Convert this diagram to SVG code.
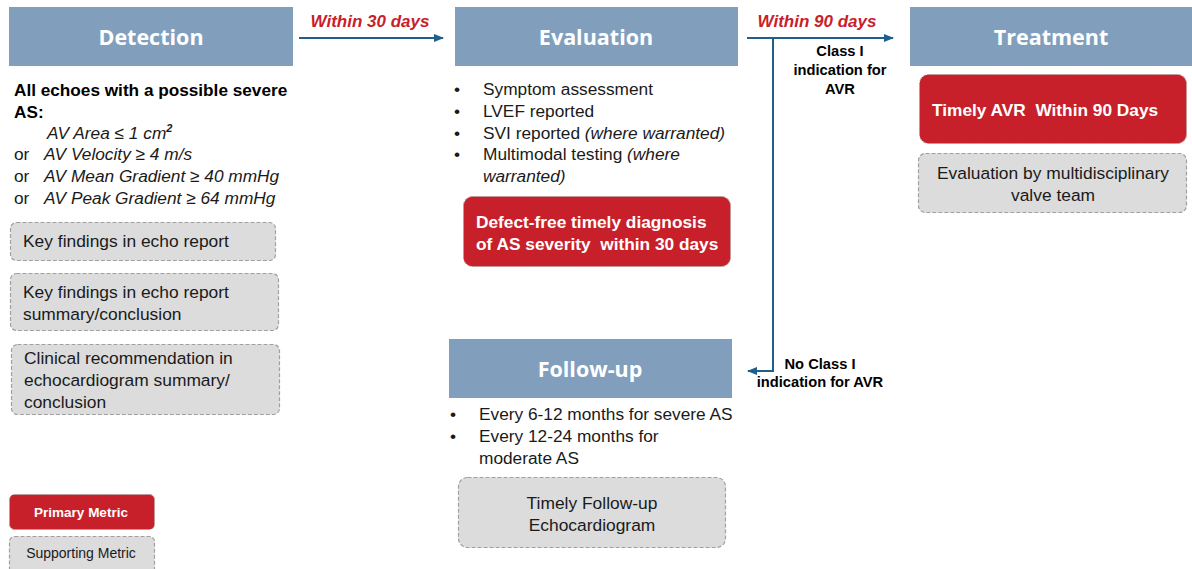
<svg xmlns="http://www.w3.org/2000/svg" width="1192" height="569" viewBox="0 0 1192 569">
<defs>
<style>
.hdr{fill:#819fbd}
.ht{font-family:"Open Sans","Liberation Sans",sans-serif;font-weight:bold;font-size:21.5px;fill:#ffffff;text-anchor:middle}
.t{font-family:"Liberation Sans","Open Sans",sans-serif;font-size:17.3px;fill:#1a1a1a}
.ti{font-style:italic}
.b{font-family:"Liberation Sans",sans-serif;font-weight:bold;font-size:17.2px;fill:#000}
.lab{font-family:"Liberation Sans",sans-serif;font-weight:bold;font-size:14.7px;fill:#000;text-anchor:middle}
.red{font-family:"Liberation Sans",sans-serif;font-weight:bold;font-style:italic;font-size:17px;fill:#c8202a;text-anchor:middle}
.prim{fill:#c8202a;stroke:#b0a0a0;stroke-width:1;stroke-dasharray:3 2}
.sup{fill:#dcdcdc;stroke:#a0a0a0;stroke-width:1.2;stroke-dasharray:4 2}
.pt{font-family:"Liberation Sans",sans-serif;font-weight:bold;font-size:17.3px;fill:#ffffff}
.st{font-family:"Liberation Sans",sans-serif;font-size:17.4px;fill:#1a1a1a}
.lg{font-size:13.5px}
.lgs{font-size:14px}
.conn{stroke:#1f5f8b;stroke-width:2;fill:none}
</style>
<marker id="ah" viewBox="0 0 10 10" refX="9" refY="5" markerWidth="5" markerHeight="5" orient="auto-start-reverse">
<path d="M0,1 L10,5 L0,9 z" fill="#1f5f8b"/>
</marker>
</defs>
<rect width="1192" height="569" fill="#ffffff"/>

<g id="connectors">
<line class="conn" x1="299" y1="38" x2="443" y2="38" marker-end="url(#ah)"/>
<line class="conn" x1="747" y1="38" x2="893" y2="38" marker-end="url(#ah)"/>
<polyline class="conn" points="773,38 773,371 748,371" marker-end="url(#ah)"/>
<text class="red" x="370" y="27">Within 30 days</text>
<text class="red" x="817" y="27">Within 90 days</text>
<text class="lab" x="840" y="56">Class I</text>
<text class="lab" x="840" y="75">indication for</text>
<text class="lab" x="840" y="94">AVR</text>
<text class="lab" x="820" y="369">No Class I</text>
<text class="lab" x="820" y="387">indication for AVR</text>
</g>

<g id="detection">
<rect class="hdr" x="9" y="7" width="284" height="59"/>
<text class="ht" x="151" y="45">Detection</text>
<text class="b" x="14" y="96">All echoes with a possible severe</text>
<text class="b" x="14" y="118">AS:</text>
<text class="t ti" x="47" y="139">AV Area ≤ 1 cm<tspan font-size="11" font-weight="bold" dy="-7">2</tspan></text>
<text class="t" x="14" y="160">or</text><text class="t ti" x="44" y="160">AV Velocity ≥ 4 m/s</text>
<text class="t" x="14" y="182">or</text><text class="t ti" x="44" y="182">AV Mean Gradient ≥ 40 mmHg</text>
<text class="t" x="14" y="204">or</text><text class="t ti" x="44" y="204">AV Peak Gradient ≥ 64 mmHg</text>
</g>

<g id="detection-metric-1">
<rect class="sup" x="10.5" y="222.5" width="265" height="38" rx="6"/>
<text class="st" x="23" y="247">Key findings in echo report</text>
</g>
<g id="detection-metric-2">
<rect class="sup" x="10.5" y="273.5" width="268" height="57" rx="6"/>
<text class="st" x="23" y="298">Key findings in echo report</text>
<text class="st" x="23" y="320">summary/conclusion</text>
</g>
<g id="detection-metric-3">
<rect class="sup" x="11.5" y="344.5" width="268" height="70" rx="6"/>
<text class="st" x="24" y="364">Clinical recommendation in</text>
<text class="st" x="24" y="386">echocardiogram summary/</text>
<text class="st" x="24" y="408">conclusion</text>
</g>

<g id="evaluation">
<rect class="hdr" x="455" y="7" width="283" height="59"/>
<text class="ht" x="596" y="45">Evaluation</text>
<text class="t" x="454" y="95">•</text><text class="t" x="483" y="95">Symptom assessment</text>
<text class="t" x="454" y="117">•</text><text class="t" x="483" y="117">LVEF reported</text>
<text class="t" x="454" y="139">•</text><text class="t" x="483" y="139">SVI reported <tspan class="ti">(where warranted)</tspan></text>
<text class="t" x="454" y="160">•</text><text class="t" x="483" y="160">Multimodal testing <tspan class="ti">(where</tspan></text>
<text class="t ti" x="483" y="182">warranted)</text>
</g>
<g id="evaluation-metric">
<rect class="prim" x="463.5" y="196.5" width="267" height="70" rx="9"/>
<text class="pt" x="476" y="228">Defect-free timely diagnosis</text>
<text class="pt" x="476" y="250">of AS severity&#160; within 30 days</text>
</g>

<g id="treatment">
<rect class="hdr" x="910" y="7" width="282" height="59"/>
<text class="ht" x="1051" y="45">Treatment</text>
</g>
<g id="treatment-metric-1">
<rect class="prim" x="919.5" y="74.5" width="267" height="69" rx="9"/>
<text class="pt" x="932" y="116">Timely AVR&#160; Within 90 Days</text>
</g>
<g id="treatment-metric-2">
<rect class="sup" x="918.5" y="153.5" width="268" height="59" rx="7"/>
<text class="st" x="1053" y="179" text-anchor="middle">Evaluation by multidisciplinary</text>
<text class="st" x="1053" y="201" text-anchor="middle">valve team</text>
</g>

<g id="follow-up">
<rect class="hdr" x="449" y="339" width="283" height="59"/>
<text class="ht" x="590" y="377">Follow-up</text>
<text class="t" x="450" y="420">•</text><text class="t" x="479" y="420">Every 6-12 months for severe AS</text>
<text class="t" x="450" y="442">•</text><text class="t" x="479" y="442">Every 12-24 months for</text>
<text class="t" x="479" y="464">moderate AS</text>
</g>
<g id="follow-up-metric">
<rect class="sup" x="458.5" y="477.5" width="267" height="70" rx="9"/>
<text class="st" x="592" y="509" text-anchor="middle">Timely Follow-up</text>
<text class="st" x="592" y="531" text-anchor="middle">Echocardiogram</text>
</g>

<g id="legend-primary">
<rect class="prim" x="9.5" y="494.5" width="145" height="35" rx="5"/>
<text class="pt lg" x="81" y="517" text-anchor="middle">Primary Metric</text>
</g>
<g id="legend-supporting">
<rect class="sup" x="9.5" y="536.5" width="145" height="40" rx="5"/>
<text class="st lgs" x="81" y="558" text-anchor="middle">Supporting Metric</text>
</g>
</svg>
